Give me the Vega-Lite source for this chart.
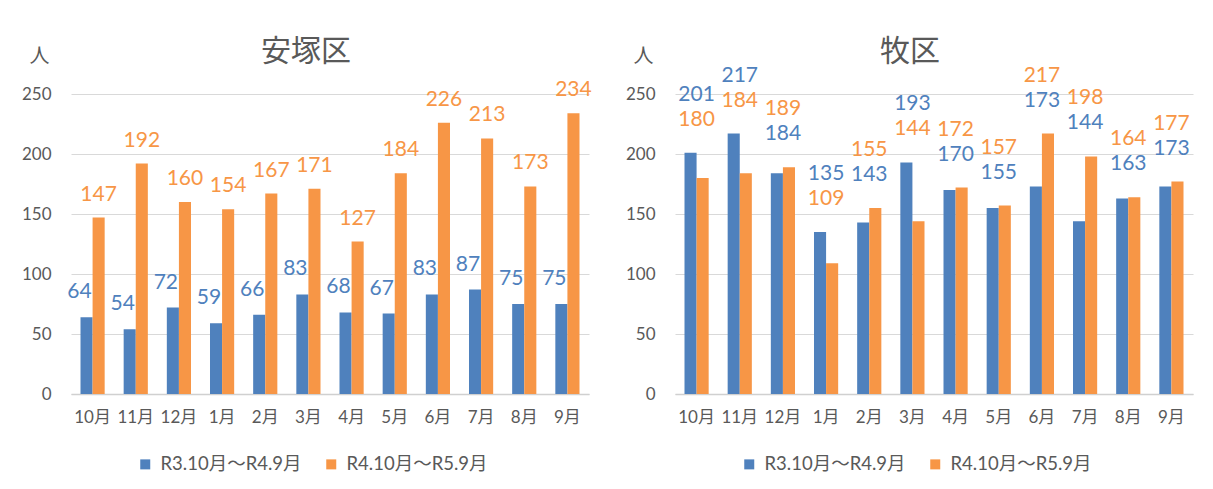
{
  "$schema": "https://vega.github.io/schema/vega-lite/v6.json",
  "background": "white",
  "padding": {"left": 21, "top": 37, "right": 10, "bottom": 5},
  "config": {
    "view": {"stroke": null},
    "font": "Lato, 'Noto Sans CJK JP'",
    "axisY": {
      "grid": true, "gridColor": "#D9D9D9", "gridWidth": 1,
      "domain": false, "ticks": false, "labelPadding": 20,
      "labelFontSize": 17, "labelColor": "#595959",
      "titleAngle": 0, "titleX": -32, "titleY": -38, "titleAlign": "center", "titleBaseline": "middle",
      "titleFontSize": 20, "titleFontWeight": "normal", "titleColor": "#595959", "titleFont": "'Noto Sans CJK JP'"
    },
    "axisX": {
      "domain": true, "domainColor": "#D0D0D0", "domainWidth": 1.5,
      "ticks": false, "labelPadding": 15, "labelAngle": 0, "labelOverlap": false,
      "labelFontSize": 17, "labelColor": "#595959", "title": null
    },
    "title": {"fontSize": 30, "fontWeight": "normal", "color": "#595959", "font": "'Noto Sans CJK JP'", "anchor": "middle", "dx": -24, "frame": "group", "offset": -21},
    "legend": {
      "title": null, "orient": "none", "legendX": 65, "legendY": 361, "direction": "horizontal",
      "symbolType": "square", "symbolSize": 100, "symbolStrokeWidth": 0,
      "labelFontSize": 18.5, "labelColor": "#595959", "columnPadding": 20, "labelOffset": 6
    }
  },
  "datasets": {
    "d": [
      {"district": "安塚区", "month": "10月", "series": "R3.10月～R4.9月", "value": 64},
      {"district": "安塚区", "month": "11月", "series": "R3.10月～R4.9月", "value": 54},
      {"district": "安塚区", "month": "12月", "series": "R3.10月～R4.9月", "value": 72},
      {"district": "安塚区", "month": "1月", "series": "R3.10月～R4.9月", "value": 59},
      {"district": "安塚区", "month": "2月", "series": "R3.10月～R4.9月", "value": 66},
      {"district": "安塚区", "month": "3月", "series": "R3.10月～R4.9月", "value": 83},
      {"district": "安塚区", "month": "4月", "series": "R3.10月～R4.9月", "value": 68},
      {"district": "安塚区", "month": "5月", "series": "R3.10月～R4.9月", "value": 67},
      {"district": "安塚区", "month": "6月", "series": "R3.10月～R4.9月", "value": 83},
      {"district": "安塚区", "month": "7月", "series": "R3.10月～R4.9月", "value": 87},
      {"district": "安塚区", "month": "8月", "series": "R3.10月～R4.9月", "value": 75},
      {"district": "安塚区", "month": "9月", "series": "R3.10月～R4.9月", "value": 75},
      {"district": "安塚区", "month": "10月", "series": "R4.10月～R5.9月", "value": 147},
      {"district": "安塚区", "month": "11月", "series": "R4.10月～R5.9月", "value": 192},
      {"district": "安塚区", "month": "12月", "series": "R4.10月～R5.9月", "value": 160},
      {"district": "安塚区", "month": "1月", "series": "R4.10月～R5.9月", "value": 154},
      {"district": "安塚区", "month": "2月", "series": "R4.10月～R5.9月", "value": 167},
      {"district": "安塚区", "month": "3月", "series": "R4.10月～R5.9月", "value": 171},
      {"district": "安塚区", "month": "4月", "series": "R4.10月～R5.9月", "value": 127},
      {"district": "安塚区", "month": "5月", "series": "R4.10月～R5.9月", "value": 184},
      {"district": "安塚区", "month": "6月", "series": "R4.10月～R5.9月", "value": 226},
      {"district": "安塚区", "month": "7月", "series": "R4.10月～R5.9月", "value": 213},
      {"district": "安塚区", "month": "8月", "series": "R4.10月～R5.9月", "value": 173},
      {"district": "安塚区", "month": "9月", "series": "R4.10月～R5.9月", "value": 234},
      {"district": "牧区", "month": "10月", "series": "R3.10月～R4.9月", "value": 201},
      {"district": "牧区", "month": "11月", "series": "R3.10月～R4.9月", "value": 217},
      {"district": "牧区", "month": "12月", "series": "R3.10月～R4.9月", "value": 184},
      {"district": "牧区", "month": "1月", "series": "R3.10月～R4.9月", "value": 135},
      {"district": "牧区", "month": "2月", "series": "R3.10月～R4.9月", "value": 143},
      {"district": "牧区", "month": "3月", "series": "R3.10月～R4.9月", "value": 193},
      {"district": "牧区", "month": "4月", "series": "R3.10月～R4.9月", "value": 170},
      {"district": "牧区", "month": "5月", "series": "R3.10月～R4.9月", "value": 155},
      {"district": "牧区", "month": "6月", "series": "R3.10月～R4.9月", "value": 173},
      {"district": "牧区", "month": "7月", "series": "R3.10月～R4.9月", "value": 144},
      {"district": "牧区", "month": "8月", "series": "R3.10月～R4.9月", "value": 163},
      {"district": "牧区", "month": "9月", "series": "R3.10月～R4.9月", "value": 173},
      {"district": "牧区", "month": "10月", "series": "R4.10月～R5.9月", "value": 180},
      {"district": "牧区", "month": "11月", "series": "R4.10月～R5.9月", "value": 184},
      {"district": "牧区", "month": "12月", "series": "R4.10月～R5.9月", "value": 189},
      {"district": "牧区", "month": "1月", "series": "R4.10月～R5.9月", "value": 109},
      {"district": "牧区", "month": "2月", "series": "R4.10月～R5.9月", "value": 155},
      {"district": "牧区", "month": "3月", "series": "R4.10月～R5.9月", "value": 144},
      {"district": "牧区", "month": "4月", "series": "R4.10月～R5.9月", "value": 172},
      {"district": "牧区", "month": "5月", "series": "R4.10月～R5.9月", "value": 157},
      {"district": "牧区", "month": "6月", "series": "R4.10月～R5.9月", "value": 217},
      {"district": "牧区", "month": "7月", "series": "R4.10月～R5.9月", "value": 198},
      {"district": "牧区", "month": "8月", "series": "R4.10月～R5.9月", "value": 164},
      {"district": "牧区", "month": "9月", "series": "R4.10月～R5.9月", "value": 177}
    ]
  },
  "spacing": 86,
  "bounds": "flush",
  "resolve": {"scale": {"color": "independent"}, "legend": {"color": "independent"}},
  "hconcat": [
    {
      "width": 518, "height": 300,
      "title": {"text": "安塚区"},
      "data": {"name": "d"},
      "transform": [{"filter": "datum.district == '安塚区'"}],
      "encoding": {
        "x": {"field": "month", "type": "nominal", "sort": ["10月","11月","12月","1月","2月","3月","4月","5月","6月","7月","8月","9月"], "scale": {"paddingInner": 0.44, "paddingOuter": 0.22}},
        "y": {"field": "value", "type": "quantitative", "scale": {"domain": [0, 250]}, "axis": {"values": [0,50,100,150,200,250], "title": "人"}},
        "xOffset": {"field": "series", "type": "nominal", "sort": ["R3.10月～R4.9月", "R4.10月～R5.9月"], "scale": {"paddingInner": 0}}
      },
      "layer": [
        {
          "mark": {"type": "bar"},
          "encoding": {
            "color": {"field": "series", "type": "nominal", "scale": {"domain": ["R3.10月～R4.9月", "R4.10月～R5.9月"], "range": ["#4F81BD", "#F79646"]}}
          }
        },
        {
          "transform": [{"filter": "datum.series == 'R3.10月～R4.9月'"}],
          "mark": {"type": "text", "baseline": "middle", "dy": -25, "dx": -7, "fontSize": 21, "color": "#4F81BD"},
          "encoding": {"text": {"field": "value", "type": "quantitative"}}
        },
        {
          "transform": [{"filter": "datum.series == 'R4.10月～R5.9月'"}],
          "mark": {"type": "text", "baseline": "middle", "dy": -23, "fontSize": 21, "color": "#F79646"},
          "encoding": {"text": {"field": "value", "type": "quantitative"}}
        }
      ]
    },
    {
      "width": 518, "height": 300,
      "title": {"text": "牧区"},
      "data": {"name": "d"},
      "transform": [{"filter": "datum.district == '牧区'"}],
      "encoding": {
        "x": {"field": "month", "type": "nominal", "sort": ["10月","11月","12月","1月","2月","3月","4月","5月","6月","7月","8月","9月"], "scale": {"paddingInner": 0.44, "paddingOuter": 0.22}},
        "y": {"field": "value", "type": "quantitative", "scale": {"domain": [0, 250]}, "axis": {"values": [0,50,100,150,200,250], "title": "人"}}
      },
      "layer": [
        {
          "mark": {"type": "bar"},
          "encoding": {
            "xOffset": {"field": "series", "type": "nominal", "sort": ["R3.10月～R4.9月", "R4.10月～R5.9月"], "scale": {"paddingInner": 0}},
            "color": {"field": "series", "type": "nominal", "scale": {"domain": ["R3.10月～R4.9月", "R4.10月～R5.9月"], "range": ["#4F81BD", "#F79646"]}}
          }
        },
        {
          "transform": [
            {"joinaggregate": [{"op": "max", "field": "value", "as": "top"}], "groupby": ["month"]},
            {"filter": "datum.value == datum.top"}
          ],
          "mark": {"type": "text", "baseline": "middle", "dy": -58, "fontSize": 21},
          "encoding": {
            "y": {"field": "top", "type": "quantitative"},
            "text": {"field": "value", "type": "quantitative"},
            "color": {"field": "series", "type": "nominal"}
          }
        },
        {
          "transform": [
            {"joinaggregate": [{"op": "max", "field": "value", "as": "top"}], "groupby": ["month"]},
            {"filter": "datum.value < datum.top"}
          ],
          "mark": {"type": "text", "baseline": "middle", "dy": -33, "fontSize": 21},
          "encoding": {
            "y": {"field": "top", "type": "quantitative"},
            "text": {"field": "value", "type": "quantitative"},
            "color": {"field": "series", "type": "nominal"}
          }
        }
      ]
    }
  ]
}
